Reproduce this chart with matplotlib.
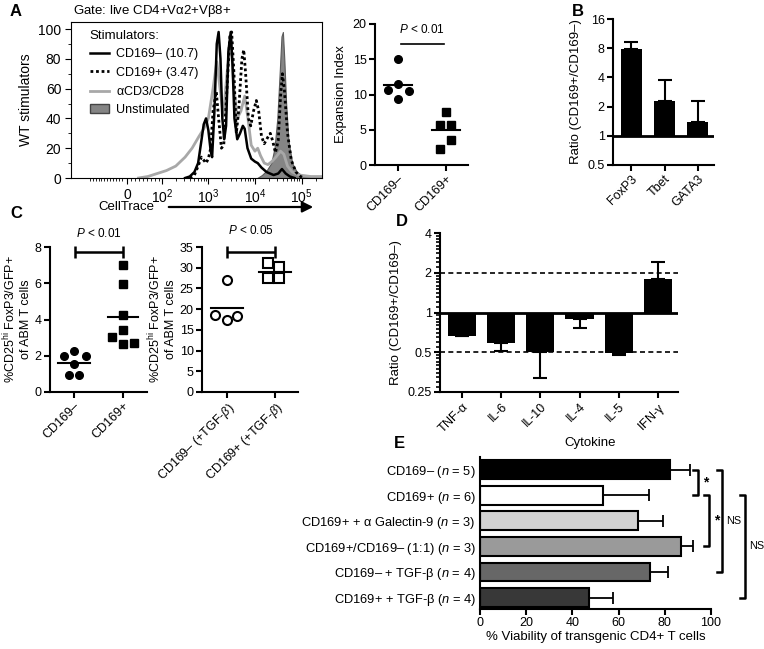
import numpy as np
import matplotlib
matplotlib.use("Agg")
import matplotlib.pyplot as plt
from matplotlib.lines import Line2D
from matplotlib.patches import Patch

plt.rcParams['font.family'] = ['Liberation Sans', 'DejaVu Sans']
plt.rcParams['mathtext.fontset'] = 'custom'
plt.rcParams['mathtext.rm'] = 'Liberation Sans'
plt.rcParams['mathtext.it'] = 'Liberation Sans:italic'
plt.rcParams['mathtext.default'] = 'regular'
plt.rcParams['font.size'] = 9

# ---- panel A: CellTrace histograms (x in decades, log10 of intensity) ----
CD169N_T = [2.50, 2.60, 2.70, 2.78, 2.85, 2.90, 2.95, 3.00, 3.05, 3.08, 3.13, 3.18, 3.22, 3.26, 3.30,
            3.34, 3.38, 3.43, 3.48, 3.52, 3.56, 3.62, 3.68, 3.74, 3.78, 3.84, 3.92, 4.00, 4.06,
            4.14, 4.25, 4.40, 4.50, 4.58, 4.66, 4.75, 4.85]
CD169N_Y = [0, 1, 4, 10, 25, 36, 40, 32, 18, 14, 45, 90, 98, 80, 40,
            26, 35, 85, 98, 75, 40, 26, 30, 35, 33, 20, 13, 11, 10,
            7, 4, 2, 3, 6, 3, 1, 0]

CD169P_T = [2.60, 2.70, 2.78, 2.85, 2.90, 2.95, 3.00, 3.05, 3.10, 3.17, 3.22, 3.28, 3.33, 3.40,
            3.46, 3.50, 3.55, 3.60, 3.65, 3.72, 3.76, 3.80, 3.86, 3.91, 3.97, 4.03, 4.08, 4.14,
            4.20, 4.27, 4.33, 4.38, 4.44, 4.50, 4.55, 4.59, 4.63, 4.70, 4.78, 4.88, 4.98, 5.05]
CD169P_Y = [0, 2, 8, 14, 12, 10, 13, 20, 45, 58, 40, 20, 22, 60,
            95, 98, 70, 30, 45, 80, 86, 70, 40, 35, 45, 52, 45, 28,
            23, 27, 30, 25, 17, 25, 55, 70, 60, 30, 12, 4, 1, 0]

ACD3_T = [1.50, 1.70, 1.90, 2.10, 2.30, 2.50, 2.65, 2.80, 2.90, 3.00, 3.10, 3.18, 3.25, 3.32,
          3.40, 3.48, 3.55, 3.62, 3.70, 3.78, 3.85, 3.92, 4.00, 4.06, 4.12, 4.20, 4.28, 4.36,
          4.45, 4.55, 4.62, 4.70, 4.80, 4.95, 5.20, 5.42]
ACD3_Y = [0, 1, 3, 5, 8, 14, 20, 28, 33, 40, 60, 78, 60, 42,
          70, 95, 60, 40, 45, 55, 40, 22, 18, 20, 15, 10, 9, 11,
          14, 18, 16, 8, 4, 2, 1, 1]

UNST_T = [4.05, 4.15, 4.25, 4.35, 4.42, 4.48, 4.53, 4.57, 4.60, 4.63, 4.67, 4.72, 4.80, 4.90,
          5.00, 5.20, 5.42]
UNST_Y = [0, 2, 5, 10, 20, 40, 70, 95, 98, 80, 50, 25, 10, 4, 2, 1, 1]

A_TICK_POS = [1.25, 2, 3, 4, 5]
A_TICK_LAB = ['0', '$10^2$', '$10^3$', '$10^4$', '$10^5$']

# ---- panel A: expansion index ----
EXP_CATS = ['CD169–', 'CD169+']
EXP_NEG = [15, 11.5, 10.7, 10.5, 9.3]
EXP_POS = [7.5, 5.7, 5.7, 3.5, 2.3]

# ---- panel B ----
B_CATS = ['FoxP3', 'Tbet', 'GATA3']
B_VALS = [7.8, 2.26, 1.4]
B_ERR_TOP = [9.3, 3.77, 2.3]

# ---- panel C ----
C1_CATS = ['CD169–', 'CD169+']
C1_NEG = [2.27, 1.99, 1.99, 1.56, 0.96, 0.96]
C1_POS = [7.0, 5.94, 4.23, 3.4, 3.03, 2.67, 2.7]
C2_CATS = [r'CD169– (+TGF-$\mathit{\beta}$)', r'CD169+ (+TGF-$\mathit{\beta}$)']
C2_NEG = [27.0, 18.5, 17.5, 18.3]
C2_POS = [31.1, 30.2, 27.5, 27.5]

# ---- panel D ----
D_CATS = [r'TNF-$\alpha$', 'IL-6', 'IL-10', 'IL-4', 'IL-5', r'IFN-$\gamma$']
D_VALS = [0.66, 0.59, 0.50, 0.89, 0.497, 1.80]
D_ERR_END = [0.66, 0.51, 0.32, 0.76, 0.475, 2.43]

# ---- panel E ----
E_CATS = [r'CD169– ($\mathit{n}$ = 5)', r'CD169+ ($\mathit{n}$ = 6)',
          r'CD169+ + $\alpha$ Galectin-9 ($\mathit{n}$ = 3)',
          r'CD169+/CD169– (1:1) ($\mathit{n}$ = 3)', r'CD169– + TGF-$\beta$ ($\mathit{n}$ = 4)',
          r'CD169+ + TGF-$\beta$ ($\mathit{n}$ = 4)']
E_VALS = [82.4, 53.4, 68.5, 87.0, 73.6, 47.2]
E_ERR_END = [90.9, 73.3, 79.4, 92.1, 81.5, 57.7]
E_COLORS = ['#000000', '#ffffff', '#d2d2d2', '#9a9a9a', '#676767', '#383838']

W, H = 764, 649
fig = plt.figure(figsize=(W / 100, H / 100), dpi=100)


def add_ax(l, t, r, b):
    return fig.add_axes([l / W, 1 - b / H, (r - l) / W, (b - t) / H])


def fx(px):
    return px / W


def fy(py):
    return 1 - py / H


def style_ax(ax, lw=1.5):
    for s in ['top', 'right']:
        ax.spines[s].set_visible(False)
    for s in ['left', 'bottom']:
        ax.spines[s].set_linewidth(lw)
    ax.tick_params(width=lw, length=4, direction='out', labelsize=9, pad=2)


def rot_labels(ax, labels):
    ax.set_xticklabels(labels, rotation=45, ha='right', rotation_mode='anchor')


# ================= Panel A histogram =================
ax = add_ax(71, 22, 322, 178)
ax.plot(ACD3_T, ACD3_Y, color='#a8a8a8', lw=2)
ax.fill_between(UNST_T, UNST_Y, color='#858585', edgecolor='#5a5a5a', lw=0.8)
ax.plot(CD169N_T, CD169N_Y, color='k', lw=1.8)
ax.plot(CD169P_T, CD169P_Y, color='k', lw=2, linestyle=(0, (1, 1)))
ax.set_xlim(0.05, 5.44)
ax.set_ylim(0, 104.7)
ax.set_xticks(A_TICK_POS)
ax.set_xticklabels(A_TICK_LAB)
minors = list(np.linspace(0.45, 1.15, 12)) + list(np.linspace(1.25, 1.95, 9))
for d in range(2, 6):
    minors += [d + np.log10(k) for k in range(2, 10) if d + np.log10(k) < 5.44]
ax.set_xticks(minors, minor=True)
ax.set_yticks([0, 20, 40, 60, 80, 100])
ax.set_yticks(range(10, 100, 20), minor=True)
for s in ax.spines.values():
    s.set_linewidth(0.8)
ax.tick_params(which='major', length=4, width=0.8, labelsize=10, pad=3)
ax.tick_params(which='minor', length=2, width=0.6)
ax.set_ylabel('WT stimulators', fontsize=10, labelpad=4)
handles = [Line2D([], [], color='k', lw=1.8),
           Line2D([], [], color='k', lw=2, linestyle=(0, (1, 1))),
           Line2D([], [], color='#a8a8a8', lw=2),
           Patch(facecolor='#858585', edgecolor='#444444')]
leg = ax.legend(handles, ['CD169– (10.7)', 'CD169+ (3.47)', r'$\alpha$CD3/CD28', 'Unstimulated'],
                loc='upper left', bbox_to_anchor=(0.03, 1.02), frameon=False,
                title='Stimulators:', alignment='left', fontsize=9, title_fontsize=9.5,
                handlelength=1.5, handletextpad=0.6, labelspacing=0.5)
fig.text(fx(73), fy(11), r'Gate: live CD4+V$\alpha$2+V$\beta$8+', fontsize=9.5, va='center')
fig.text(fx(98), fy(207), 'CellTrace', fontsize=9.5, va='center')
fig.add_artist(matplotlib.patches.FancyArrowPatch((fx(166), fy(207)), (fx(316), fy(207)),
                                                  transform=fig.transFigure, arrowstyle='-|>',
                                                  mutation_scale=16, lw=1.6, color='k'))
fig.text(fx(10), fy(11), 'A', fontsize=12, fontweight='bold', va='center')

# ================= Panel A expansion index =================
ax = add_ax(375, 24, 468, 165)
style_ax(ax)
for i, (vals, marker, offs) in enumerate([(EXP_NEG, 'o', [0, 0, -0.21, 0.23, 0]),
                                           (EXP_POS, 's', [0, -0.12, 0.1, 0.1, -0.12])]):
    ax.plot(np.array(offs) + i, vals, marker, color='k', ms=5.5, ls='none')
    ax.plot([i - 0.3, i + 0.3], [np.mean(vals)] * 2, color='k', lw=1.5)
ax.set_xlim(-0.48, 1.46)
ax.set_ylim(0, 20)
ax.set_yticks([0, 5, 10, 15, 20])
ax.set_xticks([0, 1])
rot_labels(ax, EXP_CATS)
ax.set_ylabel('Expansion Index', fontsize=9.5)
ax.plot([0.07, 0.96], [17.2, 17.2], color='k', lw=1.2, clip_on=False)
ax.text(0.5, 18.3, r'$\mathit{P}$ < 0.01', ha='center', va='bottom', fontsize=8.5)

# ================= Panel B =================
ax = add_ax(613, 19, 714, 165)
style_ax(ax)
ax.set_yscale('log', base=2)
xb = np.arange(len(B_CATS))
ax.bar(xb, np.array(B_VALS) - 1, bottom=1, width=0.63, color='k')
ax.errorbar(xb, B_VALS, yerr=[np.zeros(3), np.array(B_ERR_TOP) - np.array(B_VALS)],
            fmt='none', ecolor='k', elinewidth=1.5, capsize=5, capthick=1.5)
ax.axhline(1, color='k', lw=2)
ax.set_ylim(0.5, 16)
ax.set_xlim(-0.54, 2.48)
ax.set_yticks([0.5, 1, 2, 4, 8, 16])
ax.set_yticklabels(['0.5', '1', '2', '4', '8', '16'])
ax.minorticks_off()
ax.set_xticks(xb)
rot_labels(ax, B_CATS)
ax.set_ylabel('Ratio (CD169+/CD169–)', fontsize=9.5)
fig.text(fx(572), fy(11), 'B', fontsize=12, fontweight='bold', va='center')

# ================= Panel C left =================
ax = add_ax(50, 247, 147, 392)
style_ax(ax)
for i, (vals, offs, hw) in enumerate([(C1_NEG, [0, -0.2, 0.24, 0, -0.1, 0.1], 0.33),
                                       (C1_POS, [0, 0, 0, 0, -0.22, 0, 0.22], 0.3)]):
    ax.plot(np.array(offs) + i, vals, 'os'[i], color='k', ms=5.5, ls='none')
    ax.plot([i - hw, i + hw], [np.mean(vals)] * 2, color='k', lw=1.5)
ax.set_xlim(-0.49, 1.49)
ax.set_ylim(0, 8)
ax.set_yticks([0, 2, 4, 6, 8])
ax.set_xticks([0, 1])
rot_labels(ax, C1_CATS)
ax.set_ylabel(r'%CD25$^{hi}$ FoxP3/GFP+' + '\nof ABM T cells', fontsize=9, labelpad=2)
ax.errorbar([0.5], [7.72], xerr=[[0.47], [0.5]], fmt='none', ecolor='k', elinewidth=1.8,
            capsize=4, capthick=1.8, clip_on=False)
ax.text(0.5, 8.73, r'$\mathit{P}$ < 0.01', ha='center', va='center', fontsize=8.5)
fig.text(fx(10), fy(214), 'C', fontsize=12, fontweight='bold', va='center')

# ================= Panel C right =================
ax = add_ax(202, 247, 298, 392)
style_ax(ax)
for i, (vals, offs, mk) in enumerate([(C2_NEG, [0, -0.24, 0, 0.21], 'o'),
                                       (C2_POS, [-0.14, 0.09, -0.14, 0.09], 's')]):
    ax.plot(np.array(offs) + i, vals, mk, mfc='white', mec='k', mew=1.5, ms=6.5, ls='none')
    ax.plot([i - 0.33, i + 0.33], [np.mean(vals)] * 2, color='k', lw=1.5)
ax.set_xlim(-0.52, 1.48)
ax.set_ylim(0, 35)
ax.set_yticks(range(0, 36, 5))
ax.set_xticks([0, 1])
rot_labels(ax, C2_CATS)
ax.set_ylabel(r'%CD25$^{hi}$ FoxP3/GFP+' + '\nof ABM T cells', fontsize=9, labelpad=2)
ax.errorbar([0.5], [33.8], xerr=[[0.5], [0.5]], fmt='none', ecolor='k', elinewidth=1.8,
            capsize=4, capthick=1.8, clip_on=False)
ax.text(0.5, 38.9, r'$\mathit{P}$ < 0.05', ha='center', va='center', fontsize=8.5)

# ================= Panel D =================
ax = add_ax(440, 233, 678, 392)
style_ax(ax)
ax.set_yscale('log', base=2)
xd = np.arange(len(D_CATS))
dv = np.array(D_VALS)
de = np.array(D_ERR_END)
ax.bar(xd, dv - 1, bottom=1, width=0.72, color='k')
lower = np.where(dv < 1, dv - de, 0)
upper = np.where(dv >= 1, de - dv, 0)
ax.errorbar(xd, dv, yerr=[lower, upper], fmt='none', ecolor='k', elinewidth=1.5,
            capsize=5, capthick=1.5)
ax.axhline(1, color='k', lw=2)
for lvl in (0.5, 2):
    ax.axhline(lvl, color='k', lw=1.2, ls=(0, (3, 2)))
ax.set_ylim(0.25, 4)
ax.set_xlim(-0.56, 5.51)
ax.set_yticks([0.25, 0.5, 1, 2, 4])
ax.set_yticklabels(['0.25', '0.5', '1', '2', '4'])
mt = list(np.arange(0.275, 0.5, 0.025)) + list(np.arange(0.55, 1, 0.05)) + \
    list(np.arange(1.1, 2, 0.1)) + list(np.arange(2.2, 4, 0.2))
ax.set_yticks(mt, minor=True)
ax.yaxis.set_minor_formatter(matplotlib.ticker.NullFormatter())
ax.tick_params(axis='y', which='minor', length=3, width=1.2)
ax.set_xticks(xd)
rot_labels(ax, D_CATS)
ax.set_ylabel('Ratio (CD169+/CD169–)', fontsize=9.5)
fig.text(fx(590), fy(443), 'Cytokine', fontsize=9.5, ha='center', va='center')
fig.text(fx(396), fy(221), 'D', fontsize=12, fontweight='bold', va='center')

# ================= Panel E =================
ax = add_ax(480, 457, 711, 609)
style_ax(ax)
ye = np.arange(len(E_CATS))
ev = np.array(E_VALS)
ax.barh(ye, ev, height=0.74, color=E_COLORS, edgecolor='k', lw=1.5)
ax.errorbar(ev, ye, xerr=[np.zeros(len(ev)), np.array(E_ERR_END) - ev], fmt='none',
            ecolor='k', elinewidth=1.3, capsize=4, capthick=1.3)
ax.set_xlim(0, 100)
ax.set_ylim(5.45, -0.5)
ax.set_xticks(range(0, 101, 20))
ax.set_yticks(ye)
ax.set_yticklabels(E_CATS, fontsize=9.3)
ax.tick_params(axis='y', length=0, pad=3)
ax.set_xlabel('% Viability of transgenic CD4+ T cells', fontsize=9.5, labelpad=1)


def bracket(x, r0, r1, label, tx):
    ax.plot([x - 2.2, x, x, x - 2.2], [r0, r0, r1, r1], color='k', lw=1.8, clip_on=False)
    if label == '*':
        ax.text(tx, (r0 + r1) / 2, label, ha='center', va='center', fontsize=10,
                fontweight='bold')
    else:
        ax.text(tx, (r0 + r1) / 2, label, ha='center', va='center', fontsize=7.8)


bracket(94.4, 0, 1, '*', 97.9)
bracket(99.1, 1, 3, '*', 102.5)
bracket(104.8, 0, 4, 'NS', 110.0)
bracket(114.7, 1, 5, 'NS', 119.6)
fig.text(fx(394), fy(443), 'E', fontsize=12, fontweight='bold', va='center')

fig.savefig('out.png', dpi=100)
